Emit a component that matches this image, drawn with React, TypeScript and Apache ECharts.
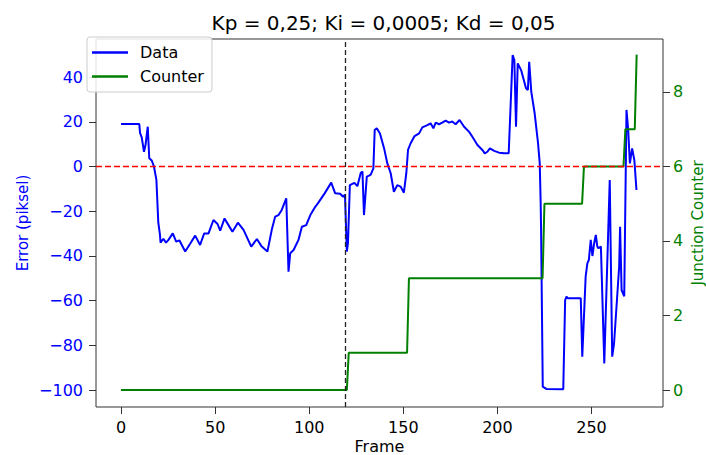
import React, { useEffect, useRef } from "react";
import * as echarts from "echarts";

const titleText = "Kp = 0,25; Ki = 0,0005; Kd = 0,05";

const dataFrames = [
  0, 9.7, 10.1, 11, 12.2, 13, 14.2, 15, 16.3, 17.5, 18.8, 19.8, 20.7, 21, 22.5, 23.9, 25.2, 27.5, 29.3, 31,
  34.1, 36.8, 39.4, 42, 44.2, 46.5, 49.1, 51.3, 52.7, 55, 57.1, 59.2, 62.1, 65.1, 69.2, 72.2, 74.8, 77.8, 80.1, 81.9,
  83.7, 85.4, 87.8, 89, 89.9, 91.7, 94.3, 96.1, 98.4, 100.6, 103.2, 104.6, 108.2, 111.7, 113.8, 116.4, 118, 119, 120, 120.6,
  121.6, 124, 125.6, 127.4, 128.3, 129.1, 130.6, 131.8, 132.7, 134.1, 134.8, 135.9, 137.6, 139.8, 141.5, 143.3, 145, 146.8, 148.6, 150.3,
  151.6, 152.5, 153.9, 156, 158.4, 160.1, 162.8, 164.5, 166, 167.2, 169, 170.7, 172.5, 174.3, 176, 177.8, 179.9, 182.3, 185, 186.7,
  189.4, 192, 193.3, 194.7, 196, 198.3, 200.9, 203.6, 206, 208.1, 209, 209.9, 210.8, 212.6, 215.2, 216.2, 216.9, 218, 219.8, 221.6,
  222.5, 223, 223.2, 224.1, 226, 235, 236, 236.7, 237.5, 244.3, 245.1, 246.9, 247.8, 248.6, 249.6, 250.5, 251.4, 252.3, 253.1, 253.6,
  255, 256.8, 259.7, 261, 262, 264.7, 265.2, 266, 267.4, 268.6, 269.5, 270.4, 271.6, 272.8, 273.9,
];

const dataError = [
  19, 19, 15, 13, 6.6, 9.5, 17.8, 3.7, 2.7, 0, -6, -25, -30.6, -34, -32.3, -34, -32.8, -29.9, -33.6, -33,
  -38, -34.4, -30.9, -35.1, -29.9, -29.9, -23.9, -25.7, -28.7, -23.2, -26.2, -29.2, -25.1, -28.3, -35.8, -32.4, -35.8, -38, -28.3, -22.4,
  -21.7, -19.4, -14.2, -47, -38.8, -37.3, -32.8, -26.9, -26.2, -21.7, -18, -16.5, -12, -7.2, -12, -12.2, -13.5, -12.6, -38, -34.2,
  -8.3, -7.3, -8.8, -2.8, -2.3, -21.7, -4.5, -4.1, -3.6, -0.8, 16.3, 17.1, 14.8, 8.1, 1.4, -3, -11.3, -8.3, -9, -11.7,
  -3, 7.4, 10.4, 13.6, 14.8, 17.5, 18.5, 19.3, 17.1, 19.6, 18.9, 19.6, 20.5, 19.6, 20.1, 18.9, 20.8, 17.8, 15.5, 13.3,
  9.6, 7.4, 5.9, 6.6, 8.1, 7, 6.2, 5.9, 5.9, 49.8, 47.6, 17.8, 46.1, 43.1, 35, 34.2, 46.8, 33.5, 23.8, 10.4,
  1.4, -16.5, -27.6, -98.4, -99.4, -99.6, -59.7, -58.2, -58.9, -58.9, -85, -49.2, -43.3, -41.8, -32.8, -40, -34.4, -30.6, -35.8, -36.5,
  -35.8, -88, -6, -85, -79, -44.8, -26.9, -55.2, -58, 25.3, 16.3, 1.4, 8.1, 2.7, -10.5,
];

const counterFrames = [0, 120, 121, 152, 153, 224, 225, 245, 246, 267, 268, 273, 274];
const counterValues = [0, 0, 1, 1, 3, 3, 5, 5, 6, 6, 7, 7, 9];

const xTicks = [0, 50, 100, 150, 200, 250];
const errorTicks = [-100, -80, -60, -40, -20, 0, 20, 40];
const counterTicks = [0, 2, 4, 6, 8];
const markerFrame = 119;

const FONT = "DejaVu Sans";
const fmt = (v: number) => String(v).replace("-", "\u2212");

export default function App() {
  const ref = useRef<HTMLDivElement>(null);
  useEffect(() => {
    if (!ref.current) return;
    const chart = echarts.init(ref.current, null, { renderer: "svg" });
    const errorData = dataFrames.map((f, i) => [f, dataError[i]]);
    const counterData = counterFrames.map((f, i) => [f, counterValues[i]]);
    chart.setOption({
      animation: false,
      backgroundColor: "#ffffff",
      textStyle: { fontFamily: FONT },
      title: {
        text: titleText,
        left: 378.5,
        top: 8,
        textAlign: "center",
        textStyle: { fontFamily: FONT, fontSize: 20, fontWeight: "normal", color: "#000" },
      },
      legend: {
        left: 87,
        top: 37,
        orient: "vertical",
        icon: "rect",
        itemWidth: 36,
        itemHeight: 2.5,
        itemGap: 5,
        padding: [6, 8, 6, 5],
        borderColor: "#cccccc",
        borderWidth: 1,
        borderRadius: 3,
        backgroundColor: "rgba(255,255,255,0.85)",
        textStyle: { fontFamily: FONT, fontSize: 16, color: "#000", lineHeight: 19, padding: [0, 0, 0, 7] },
        data: ["Data", "Counter"],
      },
      grid: {
        left: 96,
        right: 43,
        top: 39,
        bottom: 48,
        containLabel: false,
        outerBoundsMode: "none",
        show: true,
        borderColor: "#333",
        borderWidth: 1,
        backgroundColor: "transparent",
      },
      xAxis: {
        type: "value",
        min: -13.3,
        max: 288,
        name: "Frame",
        nameLocation: "middle",
        nameGap: 31,
        nameMoveOverlap: false,
        nameTextStyle: { fontFamily: FONT, fontSize: 16, color: "#000" },
        axisLine: { show: false, onZero: false },
        axisTick: { show: true, length: 7, customValues: xTicks, lineStyle: { color: "#333" } },
        axisLabel: { customValues: xTicks, fontFamily: FONT, fontSize: 16, color: "#000", margin: 12, formatter: fmt },
        splitLine: { show: false },
      },
      yAxis: [
        {
          type: "value",
          min: -107.5,
          max: 57,
          position: "left",
          name: "Error (piksel)",
          nameLocation: "middle",
          nameGap: 66,
          nameMoveOverlap: false,
          nameRotate: 90,
          nameTextStyle: { fontFamily: FONT, fontSize: 15, color: "#0000ff" },
          axisLine: { show: false, onZero: false },
          axisTick: { show: true, length: 7, customValues: errorTicks, lineStyle: { color: "#333" } },
          axisLabel: { customValues: errorTicks, fontFamily: FONT, fontSize: 16, color: "#0000ff", margin: 13, formatter: fmt },
          splitLine: { show: false },
        },
        {
          type: "value",
          min: -0.456,
          max: 9.42,
          position: "right",
          name: "Junction Counter",
          nameLocation: "middle",
          nameGap: 27,
          nameMoveOverlap: false,
          nameRotate: 90,
          nameTextStyle: { fontFamily: FONT, fontSize: 15, color: "#008000" },
          axisLine: { show: false, onZero: false },
          axisTick: { show: true, length: 7, customValues: counterTicks, lineStyle: { color: "#333" } },
          axisLabel: { customValues: counterTicks, fontFamily: FONT, fontSize: 16, color: "#008000", margin: 10, formatter: fmt },
          splitLine: { show: false },
        },
      ],
      series: [
        {
          name: "Data",
          type: "line",
          yAxisIndex: 0,
          data: errorData,
          symbol: "none",
          lineStyle: { color: "#0000ff", width: 2 },
          itemStyle: { color: "#0000ff" },
          z: 2,
          markLine: {
            silent: true,
            symbol: "none",
            label: { show: false },
            data: [
              { yAxis: 0, lineStyle: { color: "#ff0000", type: [6, 3], width: 1.3 } },
              { xAxis: markerFrame, lineStyle: { color: "#222222", type: [5, 3], width: 1.3 } },
            ],
          },
        },
        {
          name: "Counter",
          type: "line",
          yAxisIndex: 1,
          data: counterData,
          symbol: "none",
          lineStyle: { color: "#008000", width: 2 },
          itemStyle: { color: "#008000" },
          z: 3,
        },
      ],
    });
    return () => chart.dispose();
  }, []);
  return <div ref={ref} style={{ width: 706, height: 455, position: "absolute", left: 0, top: 0 }} />;
}
